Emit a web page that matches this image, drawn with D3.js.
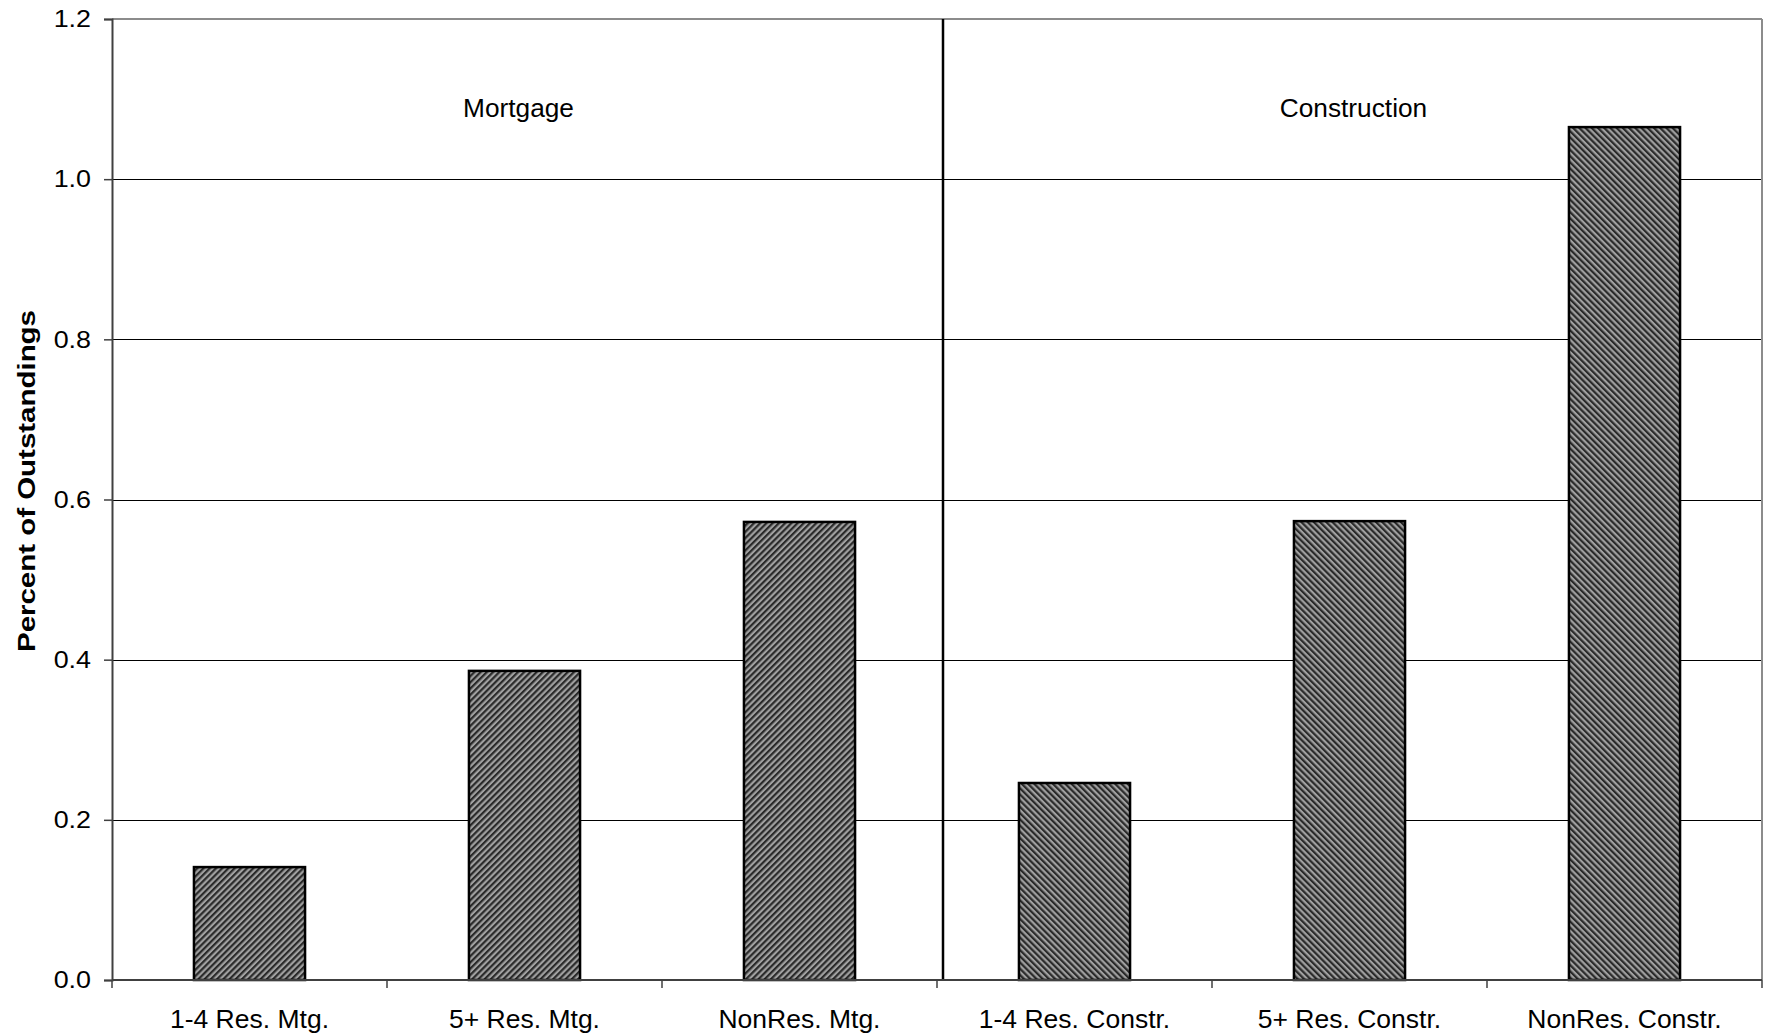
<!DOCTYPE html>
<html>
<head>
<meta charset="utf-8">
<script src="https://cdn.jsdelivr.net/npm/d3@7"></script>
<style>
  html, body { margin: 0; padding: 0; background: #fff; }
  svg { display: block; }
  text { font-family: "Liberation Sans", Arial, sans-serif; fill: #000; }
</style>
</head>
<body>
<svg id="chart" width="1769" height="1036"></svg>
<script>
// ---- data ----
const categories = ["1-4 Res. Mtg.", "5+ Res. Mtg.", "NonRes. Mtg.", "1-4 Res. Constr.", "5+ Res. Constr.", "NonRes. Constr."];
const values = [0.141, 0.386, 0.572, 0.246, 0.573, 1.065];
const groups = ["Mortgage", "Mortgage", "Mortgage", "Construction", "Construction", "Construction"];
const groupLabels = ["Mortgage", "Construction"];
const yTicks = [0.0, 0.2, 0.4, 0.6, 0.8, 1.0, 1.2];
const yTitle = "Percent of Outstandings";

// ---- layout ----
(function () {
const svg = d3.select("#chart");
const pLeft = 112, pRight = 1762, pTop = 19, pBottom = 980;

const x = d3.scaleBand().domain(categories).range([pLeft, pRight])
  .paddingInner(0.596).paddingOuter(0.298);
const y = d3.scaleLinear().domain([0, 1.2]).range([pBottom, pTop]);

// horizontally stretch text (source rendering was slightly wide)
function stretch(sel, k) {
  sel.each(function () {
    const w = this.getComputedTextLength();
    d3.select(this).attr("textLength", w * k).attr("lengthAdjust", "spacingAndGlyphs");
  });
}

// patterns
const defs = svg.append("defs");
function stripe(id, angle) {
  const p = defs.append("pattern").attr("id", id)
    .attr("patternUnits", "userSpaceOnUse")
    .attr("width", 4.4).attr("height", 4.4)
    .attr("patternTransform", `rotate(${angle})`);
  p.append("rect").attr("width", 4.4).attr("height", 4.4).attr("fill", "#a0a0a0");
  p.append("rect").attr("width", 2.2).attr("height", 4.4).attr("fill", "#2a2a2a");
}
stripe("hatchMtg", 45);
stripe("hatchCon", -45);

// gridlines
svg.append("g").selectAll("line")
  .data(yTicks.filter(d => d > 0 && d < 1.2))
  .join("line")
  .attr("x1", pLeft).attr("x2", pRight)
  .attr("y1", d => Math.round(y(d)) + 0.5).attr("y2", d => Math.round(y(d)) + 0.5)
  .attr("stroke", "#000").attr("stroke-width", 1);

// plot frame (top and right in gray)
svg.append("line").attr("x1", pLeft).attr("x2", pRight).attr("y1", y(1.2)).attr("y2", y(1.2))
  .attr("stroke", "#8c8c8c").attr("stroke-width", 2);
svg.append("line").attr("x1", pRight).attr("x2", pRight).attr("y1", y(1.2)).attr("y2", y(0))
  .attr("stroke", "#8c8c8c").attr("stroke-width", 2);

// group divider
const dividerOffset = 6;
const divX = x(categories[3]) - x.step() * x.paddingInner() / 2 + dividerOffset;
svg.append("line").attr("x1", divX).attr("x2", divX).attr("y1", y(1.2)).attr("y2", y(0))
  .attr("stroke", "#000").attr("stroke-width", 2.5);

// bars
svg.append("g").selectAll("rect")
  .data(categories.map((c, i) => ({ c, v: values[i], g: groups[i] })))
  .join("rect")
  .attr("x", d => x(d.c))
  .attr("width", x.bandwidth())
  .attr("y", d => y(d.v))
  .attr("height", d => y(0) - y(d.v))
  .attr("fill", d => d.g === "Mortgage" ? "url(#hatchMtg)" : "url(#hatchCon)")
  .attr("stroke", "#000").attr("stroke-width", 2.5);

// group labels
const half = (pRight - pLeft) / 2;
const groupOffsets = [-6, 4];
svg.append("g").selectAll("text")
  .data(groupLabels)
  .join("text")
  .attr("x", (d, i) => pLeft + half * i + half / 2 + groupOffsets[i])
  .attr("y", 117)
  .attr("text-anchor", "middle")
  .attr("font-size", 25)
  .text(d => d)
  .call(stretch, 1.05);

// y axis
const yAxis = d3.axisLeft(y).tickValues(yTicks).tickFormat(d3.format(".1f"))
  .tickSize(8).tickPadding(13);
const gy = svg.append("g").attr("transform", `translate(${pLeft},0)`).call(yAxis);
gy.select(".domain").attr("stroke", "#404040").attr("stroke-width", 2);
gy.selectAll(".tick line").attr("stroke", "#404040").attr("stroke-width", 1.5);
gy.selectAll(".tick text").attr("font-size", 24).attr("font-family", "Liberation Sans, Arial, sans-serif").attr("fill", "#000")
  .call(stretch, 1.12);

// x axis: ticks at band boundaries
const boundaries = categories.map(c => x(c) - x.step() * x.paddingInner() / 2).concat([pRight]);
svg.append("line").attr("x1", pLeft).attr("x2", pRight).attr("y1", y(0)).attr("y2", y(0))
  .attr("stroke", "#404040").attr("stroke-width", 2);
svg.append("g").selectAll("line")
  .data(boundaries)
  .join("line")
  .attr("x1", d => d).attr("x2", d => d)
  .attr("y1", y(0)).attr("y2", y(0) + 8)
  .attr("stroke", "#404040").attr("stroke-width", 1.5);
svg.append("g").selectAll("text")
  .data(categories)
  .join("text")
  .attr("x", d => x(d) + x.bandwidth() / 2)
  .attr("y", 1028)
  .attr("text-anchor", "middle")
  .attr("font-size", 25)
  .text(d => d)
  .call(stretch, 1.06);

// y title
svg.append("text")
  .attr("transform", `translate(35,481) rotate(-90)`)
  .attr("text-anchor", "middle")
  .attr("font-size", 24)
  .attr("font-weight", "bold")
  .attr("textLength", 342)
  .attr("lengthAdjust", "spacingAndGlyphs")
  .text(yTitle);
})();
</script>
</body>
</html>
